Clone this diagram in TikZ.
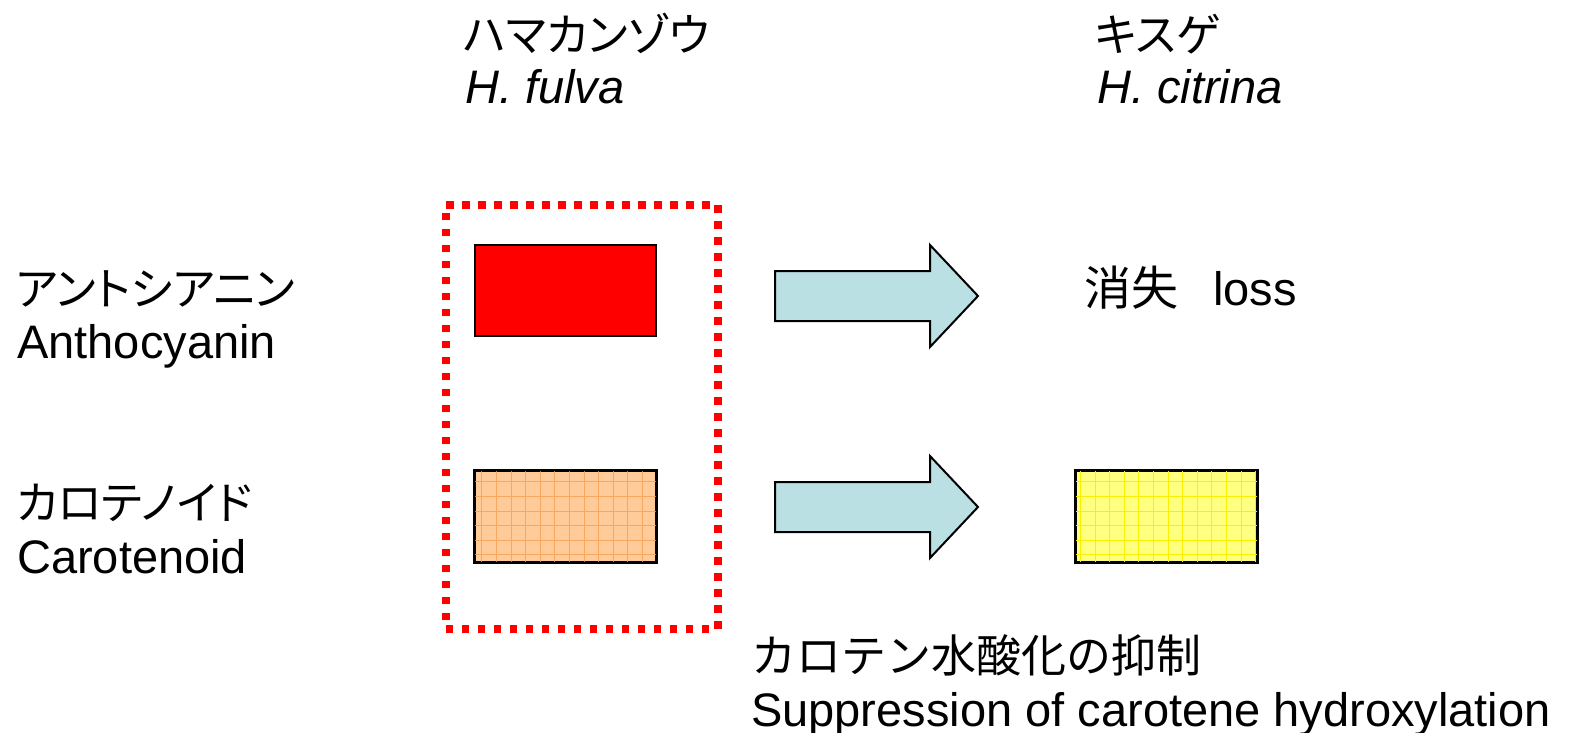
\documentclass[tikz,border=0pt]{standalone}
\usepackage{fontspec}
\setmainfont{Liberation Sans}
\newfontfamily\jp{Noto Sans CJK JP}
\newfontfamily\jpp[RawFeature=+palt]{Noto Sans CJK JP}
\definecolor{arrowblue}{RGB}{187,224,227}
\definecolor{orangefill}{RGB}{255,204,153}
\definecolor{orangegrid}{RGB}{247,160,80}
\definecolor{yellowfill}{RGB}{255,255,128}
\definecolor{yellowgrid}{RGB}{250,240,0}
\begin{document}
\begin{tikzpicture}[x=1pt,y=-1pt,
  txt/.style={inner sep=0pt, anchor=base west, font=\fontsize{47}{56}\selectfont},
  itxt/.style={inner sep=0pt, anchor=base west, font=\fontsize{47}{56}\selectfont\itshape},
  jtxt/.style={inner sep=0pt, anchor=base west, font=\fontsize{45}{54}\selectfont\jp},
  ktxt/.style={inner sep=0pt, anchor=base west, font=\fontsize{45}{54}\selectfont\jpp},
  colorbox/.style={draw=black, line width=2pt, inner sep=0pt, minimum width=181pt, minimum height=91pt, anchor=north west},
  bigarrow/.style={draw=black, line width=2pt, fill=arrowblue, line join=miter},
  dotframe/.style={draw=red, line width=7.5pt, dash pattern=on 7.5pt off 8.5pt, inner sep=0pt, minimum width=272pt, minimum height=424pt, anchor=north west}]
\useasboundingbox (0,0) rectangle (1576,733);

% headers
\node[ktxt] (hfj) at (463,52) {ハマカンゾウ};
\node[itxt] (hfl) at (465,104) {H. fulva};
\node[ktxt] (hcj) at (1095,52) {キスゲ};
\node[itxt] (hcl) at (1097,104) {H. citrina};

% row labels
\node[ktxt] (antj) at (16,305) {アントシアニン};
\node[txt] (antl) at (17,358) {Anthocyanin};
\node[ktxt] (carj) at (16,519) {カロテノイド};
\node[txt] (carl) at (17,573) {Carotenoid};

% dotted frame
\node[dotframe] (frame) at (442,201) {};

% boxes
\node[colorbox, fill=red] (redbox) at (474,244) {};
\node[colorbox, fill=orangefill] (orbox) at (474,470) {};
\begin{scope}
  \clip (orbox.south west) rectangle (orbox.north east);
  \draw[orangegrid, line width=0.8pt, opacity=0.8, step=14.6pt] (orbox.south west) grid (orbox.north east);
\end{scope}
\draw[black, line width=2pt] (orbox.south west) rectangle (orbox.north east);

\node[colorbox, fill=yellowfill] (yebox) at (1075,470) {};
\begin{scope}
  \clip (yebox.south west) rectangle (yebox.north east);
  \draw[yellowgrid, line width=0.8pt, step=14.6pt] (yebox.south west) grid (yebox.north east);
\end{scope}
\draw[black, line width=2pt] (yebox.south west) rectangle (yebox.north east);

% block arrows
\draw[bigarrow] (775,271) -- (930,271) -- (930,245) -- (978,296) -- (930,347) -- (930,321) -- (775,321) -- cycle;
\draw[bigarrow] (775,482) -- (930,482) -- (930,456) -- (978,507) -- (930,558) -- (930,532) -- (775,532) -- cycle;

% right side texts
\node[jtxt, font=\fontsize{47}{56}\selectfont\jp] (lossj) at (1084,305) {消失};
\node[txt] (lossl) at (1213,305) {loss};

% bottom caption
\node[jtxt] (supj) at (751,672) {カロテン水酸化の抑制};
\node[txt] (supl) at (751,726) {Suppression of carotene hydroxylation};
\end{tikzpicture}
\end{document}
